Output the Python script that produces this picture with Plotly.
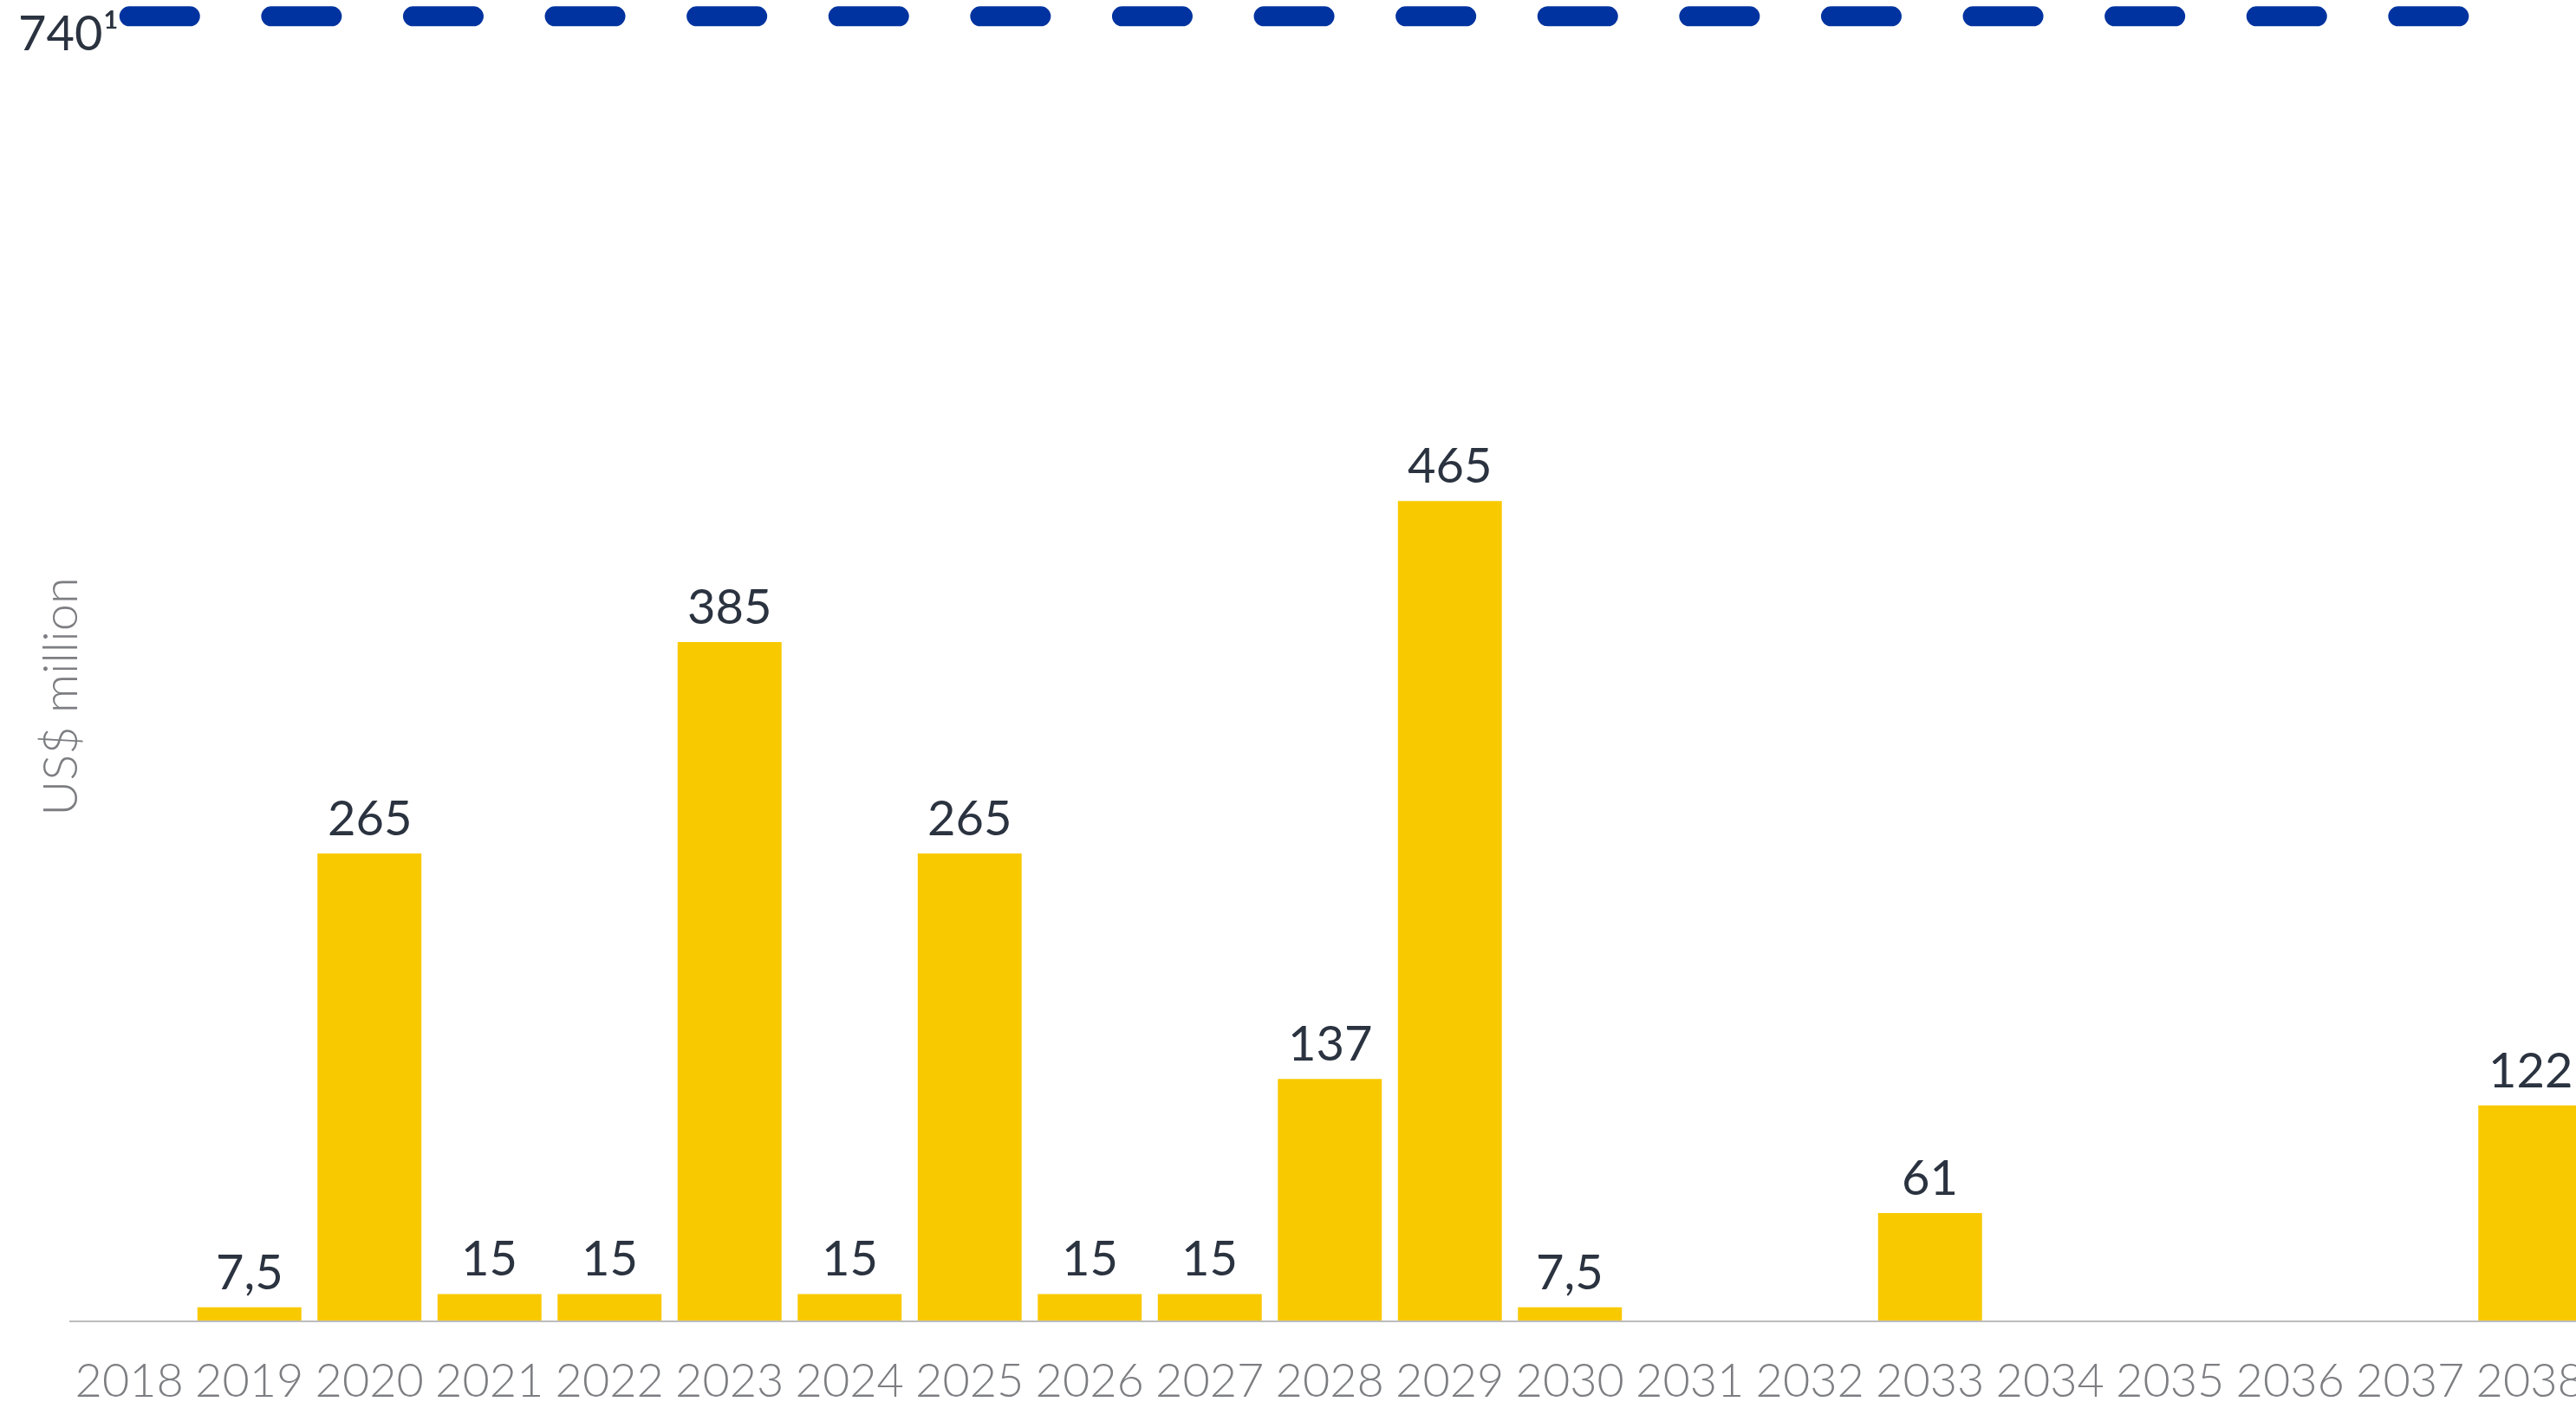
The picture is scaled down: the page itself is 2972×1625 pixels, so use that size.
import plotly.graph_objects as go

years = list(range(2018, 2039))
values = [None, 7.5, 265, 15, 15, 385, 15, 265, 15, 15, 137, 465, 7.5,
          None, None, 61, None, None, None, None, 122]
labels = ["", "7,5", "265", "15", "15", "385", "15", "265", "15", "15", "137", "465", "7,5",
          "", "", "61", "", "", "", "", "122"]
tick_labels = [str(y) for y in years]
threshold_value = 740
threshold_label = "740¹"
threshold_years = [2018, 2038]
y_title = "US$ million"

BAR = "#F9C900"
BLUE = "#0033A0"
DARK = "#2B3340"
GRAY = "#7D7E82"
FONT = "Lato"

fig = go.Figure()
fig.add_trace(go.Bar(
    x=years, y=values,
    marker=dict(color=BAR, line=dict(width=0)),
    hoverinfo="skip",
))
fig.add_trace(go.Scatter(
    x=threshold_years, y=[threshold_value, threshold_value], mode="lines",
    line=dict(color=BLUE, width=23, dash="70px,93.6px"), hoverinfo="skip",
))
for yr, v, lab in zip(years, values, labels):
    if v is None or not lab:
        continue
    fig.add_annotation(
        x=yr, y=v, xref="x", yref="y", text=lab, showarrow=False,
        xanchor="center", yanchor="bottom", yshift=7,
        font=dict(family=FONT, size=56, color=DARK),
    )
fig.add_annotation(
    x=threshold_years[0], y=threshold_value, xref="x", yref="y",
    text=threshold_label, showarrow=False, xanchor="right", yanchor="middle",
    xshift=-10, yshift=-18, font=dict(family=FONT, size=56, color=DARK),
)
fig.add_annotation(
    x=-0.004, y=1 - 804 / 1524, xref="paper", yref="paper",
    text=y_title, textangle=-90, showarrow=False, xanchor="center", yanchor="middle",
    font=dict(family=FONT, size=56, color=GRAY, weight=300),
)

fig.update_layout(
    width=2972, height=1625,
    margin=dict(l=80, r=0, t=0, b=101, autoexpand=False),
    paper_bgcolor="white", plot_bgcolor="white",
    showlegend=False, bargap=0.134,
    xaxis=dict(
        range=[2017.5, 2017.5 + 2892 / 138.5],
        tickvals=years, ticktext=tick_labels,
        tickfont=dict(family=FONT, size=54, color=GRAY, weight=300),
        ticks="outside", ticklen=21, tickcolor="rgba(0,0,0,0)",
        ticklabeloverflow="allow", automargin=False,
        showline=True, linecolor="#BDBDBD", linewidth=2,
        showgrid=False, zeroline=False, fixedrange=True,
    ),
    yaxis=dict(
        range=[0, 1524 / 2.034], showticklabels=False, showgrid=False,
        zeroline=False, showline=False, fixedrange=True, automargin=False,
    ),
)

post = """
document.body.style.margin='0';
document.body.style.overflow='hidden';
document.querySelectorAll('.scatterlayer .js-line').forEach(function(p){
  p.style.strokeLinecap='round';
});
"""
fig.write_html("out.html", post_script=post, config={"displayModeBar": False})
